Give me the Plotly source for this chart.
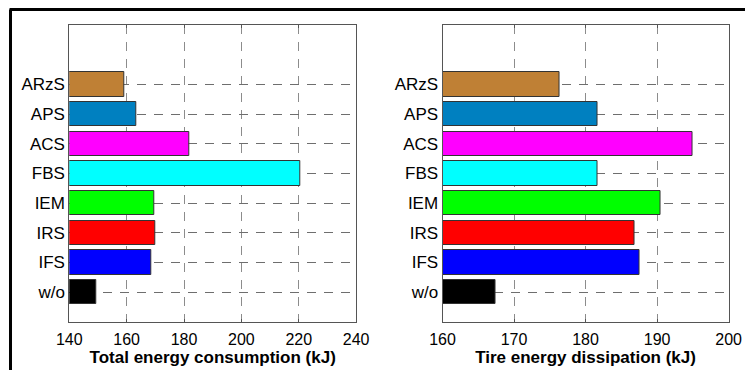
import plotly.graph_objects as go

# Control strategies, bottom to top
strategies = ["w/o", "IFS", "IRS", "IEM", "FBS", "ACS", "APS", "ARzS"]
bar_colors = ["#000000", "#0000ff", "#ff0000", "#00ff00", "#00ffff",
              "#ff00ff", "#0080c0", "#bf8035"]

# Total energy consumption (kJ)
total_energy = [149.4, 168.5, 169.9, 169.7, 220.6, 181.7, 163.2, 159.0]
# Tire energy dissipation (kJ)
tire_energy = [167.4, 187.5, 186.8, 190.5, 181.7, 195.0, 181.7, 176.3]

total_ticks = [140, 160, 180, 200, 220, 240]
tire_ticks = [160, 170, 180, 190, 200]

positions = list(range(1, len(strategies) + 1))

fig = go.Figure()
fig.add_trace(go.Bar(
    y=positions, x=[v - total_ticks[0] for v in total_energy], base=total_ticks[0],
    orientation="h", width=0.82,
    marker=dict(color=bar_colors, line=dict(color="#333333", width=1)),
    xaxis="x", yaxis="y", showlegend=False))
fig.add_trace(go.Bar(
    y=positions, x=[v - tire_ticks[0] for v in tire_energy], base=tire_ticks[0],
    orientation="h", width=0.82,
    marker=dict(color=bar_colors, line=dict(color="#333333", width=1)),
    xaxis="x2", yaxis="y2", showlegend=False))

font_family = "Liberation Sans, Arial, sans-serif"
xtick_font = dict(family=font_family, size=16, color="#000000")
ytick_font = dict(family=font_family, size=17, color="#000000")
title_font = dict(family=font_family, size=17, color="#000000")

common_x = dict(
    showgrid=True, gridcolor="#8c8c8c", gridwidth=1.3, griddash="9px,8px",
    showline=True, linecolor="#555555", linewidth=1, mirror="ticks",
    ticks="inside", ticklen=3, tickcolor="#555555", ticklabelstandoff=3,
    tickfont=xtick_font, zeroline=False, fixedrange=True, automargin=False,
)
common_y = dict(
    range=[0, 10], tickvals=positions, ticktext=strategies,
    showgrid=True, gridcolor="#6e6e6e", gridwidth=1.2, griddash="9px,8px",
    showline=True, linecolor="#555555", linewidth=1, mirror="ticks",
    ticks="", tickfont=ytick_font, zeroline=False, fixedrange=True,
    automargin=False,
)

fig.update_layout(
    width=745, height=370,
    margin=dict(l=0, r=0, t=0, b=0, autoexpand=False),
    paper_bgcolor="#ffffff", plot_bgcolor="#ffffff",
    bargap=0,
    xaxis=dict(domain=[0.093, 0.478], range=[140, 240], tickvals=total_ticks,
               title=dict(text="<b>Total energy consumption (kJ)</b>",
                          font=title_font, standoff=0),
               anchor="y", **common_x),
    yaxis=dict(domain=[0.13, 0.9324], anchor="x", **common_y),
    xaxis2=dict(domain=[0.594, 0.978], range=[160, 200], tickvals=tire_ticks,
                title=dict(text="<b>Tire energy dissipation (kJ)</b>",
                           font=title_font, standoff=0),
                anchor="y2", **common_x),
    yaxis2=dict(domain=[0.13, 0.9324], anchor="x2", **common_y),
    shapes=[
        dict(type="line", xref="paper", yref="paper",
             x0=0.0128, x1=1.0, y0=0.9743, y1=0.9743,
             line=dict(color="#000000", width=3)),
        dict(type="line", xref="paper", yref="paper",
             x0=0.0141, x1=0.0141, y0=0.9743, y1=0.0,
             line=dict(color="#000000", width=3)),
    ],
)

fig.write_html("out.html")
